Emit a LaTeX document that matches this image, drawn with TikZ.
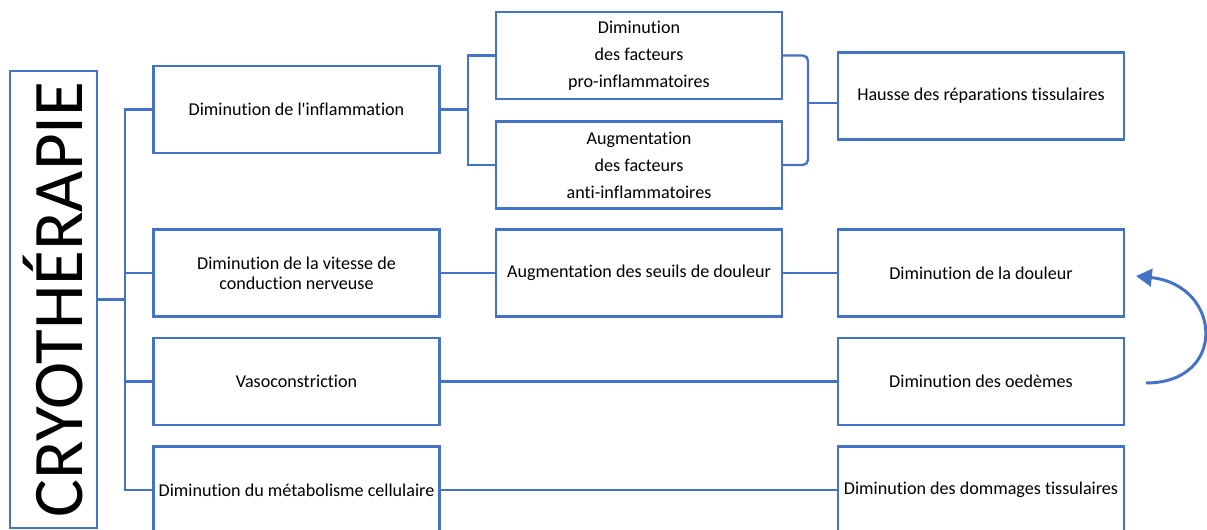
\documentclass[tikz,border=0pt]{standalone}
\usepackage{fontspec}
\setmainfont{Carlito}[Ligatures={TeX,NoCommon}]
\usetikzlibrary{arrows.meta, positioning}
\definecolor{linkblue}{RGB}{68, 114, 196}

\begin{document}
\begin{tikzpicture}[x=0.02cm, y=-0.02cm,
  box/.style={draw=linkblue, line width=1.3pt, minimum width=5.72cm, minimum height=1.74cm,
    outer sep=0pt, inner sep=2pt, align=center, font=\fontsize{10.3}{11.5}\selectfont},
  tallbox/.style={box, font=\fontsize{10.3}{15.4}\selectfont},
  conn/.style={draw=linkblue, line width=1.35pt}]
  \useasboundingbox (0,0) rectangle (1207,530);

  % Title box
  \node[box, minimum width=1.74cm, minimum height=9.14cm, inner sep=0pt] (cryo) at (53.5,299.5)
    {\rotatebox{90}{\fontsize{40.5}{40.5}\selectfont CRYOTHÉRAPIE}};

  % First column
  \node[box] (inflam) at (296.5,109.5) {Diminution de l\textquotesingle inflammation};
  \node[box] (vitesse) at (296.5,273) {Diminution de la vitesse de\\conduction nerveuse};
  \node[box] (vaso) at (296.5,381.5) {Vasoconstriction};
  \node[box] (meta) at (296.5,490) {Diminution du métabolisme cellulaire};

  % Second column
  \node[tallbox] (profac) at (639,55.5) {Diminution\\des facteurs\\pro-inflammatoires};
  \node[tallbox] (antifac) at (639,165) {Augmentation\\des facteurs\\anti-inflammatoires};
  \node[box] (seuils) at (639,273) {Augmentation des seuils de douleur};

  % Effects
  \node[box] (hausse) at (981,96) {Hausse des réparations tissulaires};
  \node[box] (douleur) at (981,273) {Diminution de la douleur};
  \node[box] (oedemes) at (981,381.5) {Diminution des oedèmes};
  \node[box] (dommages) at (981,490) {Diminution des dommages tissulaires};

  % Tree from the title
  \coordinate (trunk) at (125,299.5);
  \draw[conn] (cryo.east) -- (trunk);
  \draw[conn] (inflam.west) -- (inflam.west -| trunk) -- (meta.west -| trunk) -- (meta.west);
  \draw[conn] (vitesse.west) -- (vitesse.west -| trunk);
  \draw[conn] (vaso.west) -- (vaso.west -| trunk);

  % Inflammation fork and bracket
  \coordinate (fork) at (468,109.5);
  \draw[conn] (inflam.east) -- (fork);
  \draw[conn] (profac.west) -- (profac.west -| fork) -- (antifac.west -| fork) -- (antifac.west);
  \coordinate (brace) at (808,103);
  \draw[conn, rounded corners=3pt] (profac.east) -- (profac.east -| brace) -- (antifac.east -| brace) -- (antifac.east);
  \draw[conn] (brace) -- (brace -| hausse.west);

  % Rows
  \draw[conn] (vitesse.east) -- (seuils.west);
  \draw[conn] (seuils.east) -- (douleur.west);
  \draw[conn] (vaso.east) -- (oedemes.west);
  \draw[conn] (meta.east) -- (dommages.west);

  % Loop back arrow
  \coordinate (loopS) at (1146,383);
  \coordinate (loopE) at (1136,276);
  \draw[conn, line width=1.7pt, -{Triangle[length=9pt, width=10pt]}]
    (loopS) .. controls (1228,383) and (1222,285) .. (loopE);
\end{tikzpicture}
\end{document}
